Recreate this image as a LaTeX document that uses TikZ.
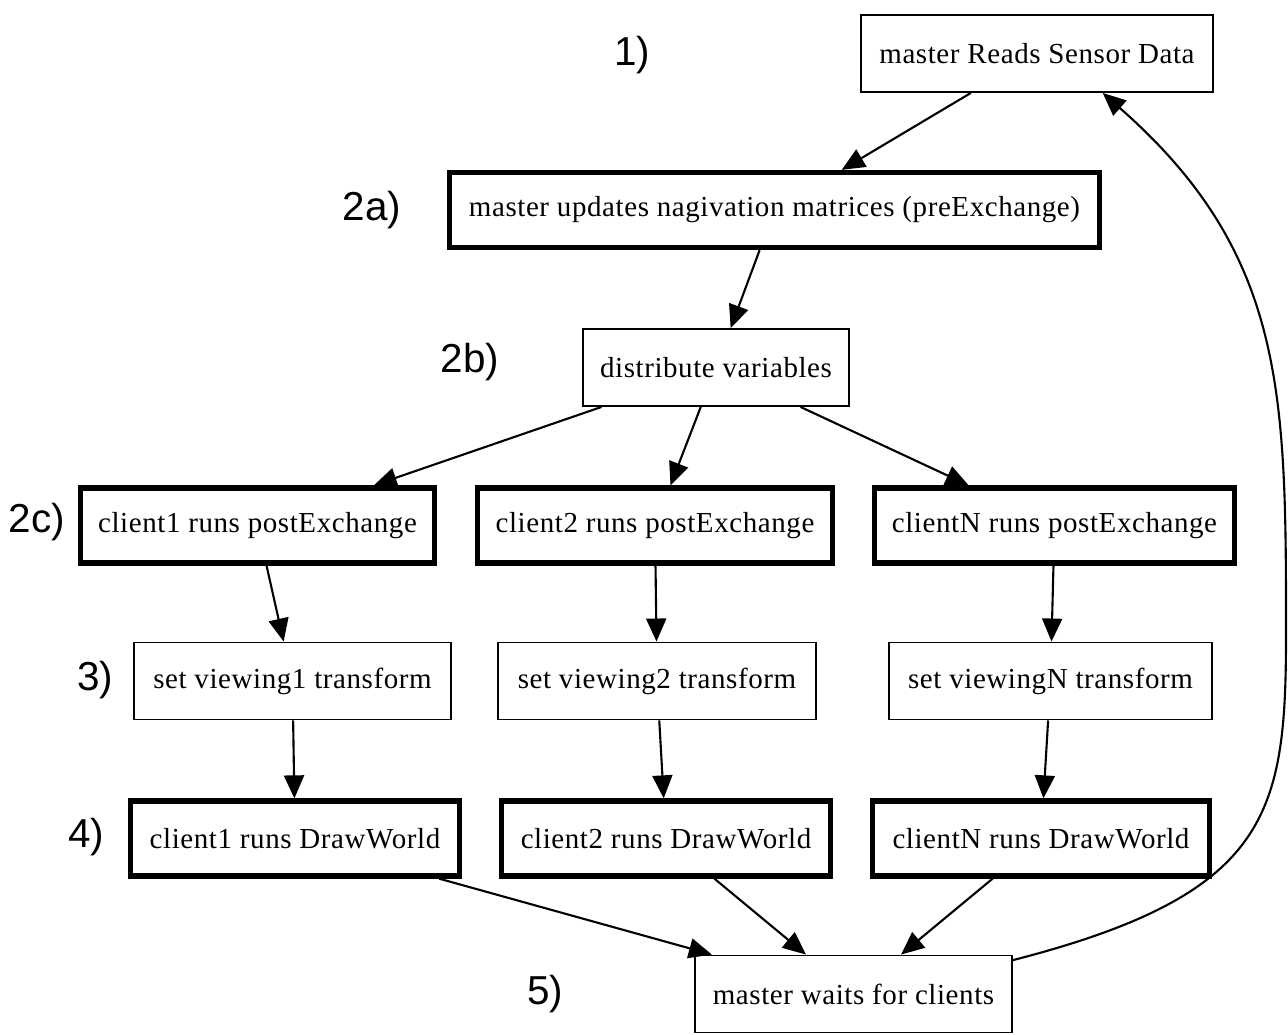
\documentclass[tikz,border=0pt]{standalone}
\usepackage{fontspec}
\usepackage{tikz}
\usetikzlibrary{arrows.meta}
\newfontfamily\boxfont[LetterSpace=2]{Liberation Serif}
\newfontfamily\stepfont{Liberation Sans}

\begin{document}
\begin{tikzpicture}[x=0.2cm,y=0.2cm,
    thinbox/.style={draw=black, line width=1.1pt, minimum height=1.54cm, inner sep=0pt,
                    font=\boxfont\fontsize{16.5}{19}\selectfont},
    thickbox/.style={thinbox, line width=3pt, minimum height=1.5cm},
    steplabel/.style={font=\stepfont\fontsize{23}{26}\selectfont},
    edge/.style={-{Triangle[length=0.46cm,width=0.4cm]}, line width=1.2pt}]
       \useasboundingbox (0,0) rectangle (128.8,103.4);

       % master side
       \node[thinbox, minimum width=7.04cm] (readsensor) at (103.7, 98.05) {master Reads Sensor Data};
       \node[thickbox, minimum width=13cm] (preexchange) at (77.45, 82.4) {master updates nagivation matrices (preExchange)};
       \node[thinbox, minimum width=5.32cm] (distribute) at (71.6, 66.65) {distribute variables};

       % clients
       \node[thickbox, minimum width=7.08cm] (postone) at (25.75, 50.85) {client1 runs postExchange};
       \node[thickbox, minimum width=7.1cm] (posttwo) at (65.5, 50.85) {client2 runs postExchange};
       \node[thickbox, minimum width=7.2cm] (postN) at (105.45, 50.85) {clientN runs postExchange};

       \node[thinbox, minimum width=6.34cm] (viewone) at (29.25, 35.3) {set viewing1 transform};
       \node[thinbox, minimum width=6.36cm] (viewtwo) at (65.7, 35.3) {set viewing2 transform};
       \node[thinbox, minimum width=6.46cm] (viewN) at (105.05, 35.3) {set viewingN transform};

       \node[thickbox, minimum width=6.58cm] (drawone) at (29.5, 19.55) {client1 runs DrawWorld};
       \node[thickbox, minimum width=6.58cm] (drawtwo) at (66.6, 19.55) {client2 runs DrawWorld};
       \node[thickbox, minimum width=6.74cm] (drawN) at (104.1, 19.55) {clientN runs DrawWorld};

       \node[thinbox, minimum width=6.34cm] (waitclients) at (85.35, 4.0) {master waits for clients};

       % step numbers
       \node[steplabel] (stepone) at (63.2, 97.9) {1)};
       \node[steplabel] (steptwoa) at (37.2, 82.4) {2a)};
       \node[steplabel] (steptwob) at (47.0, 67.2) {2b)};
       \node[steplabel] (steptwoc) at (3.7, 51.2) {2c)};
       \node[steplabel] (stepthree) at (9.5, 35.4) {3)};
       \node[steplabel] (stepfour) at (8.6, 19.7) {4)};
       \node[steplabel] (stepfive) at (54.5, 4.0) {5)};

       \draw[edge] (readsensor) -- (preexchange);
       \draw[edge] (preexchange) -- (distribute);

       \draw[edge] (distribute) -- (postone);
       \draw[edge] (distribute) -- (posttwo);
       \draw[edge] (distribute) -- (postN);

       \draw[edge] (postone) -- (viewone);
       \draw[edge] (posttwo) -- (viewtwo);
       \draw[edge] (postN) -- (viewN);

       \draw[edge] (viewone) -- (drawone);
       \draw[edge] (viewtwo) -- (drawtwo);
       \draw[edge] (viewN) -- (drawN);

       \draw[edge] (drawone) -- (waitclients);
       \draw[edge] (drawtwo) -- (waitclients);
       \draw[edge] (drawN) -- (waitclients);

       % loop back to the top
       \draw[edge] (waitclients.12) .. controls (127, 14) and (128.6, 22) .. (128.6, 40)
                   .. controls (128.6, 64) and (128.6, 78) .. (readsensor.-31);
\end{tikzpicture}
\end{document}
